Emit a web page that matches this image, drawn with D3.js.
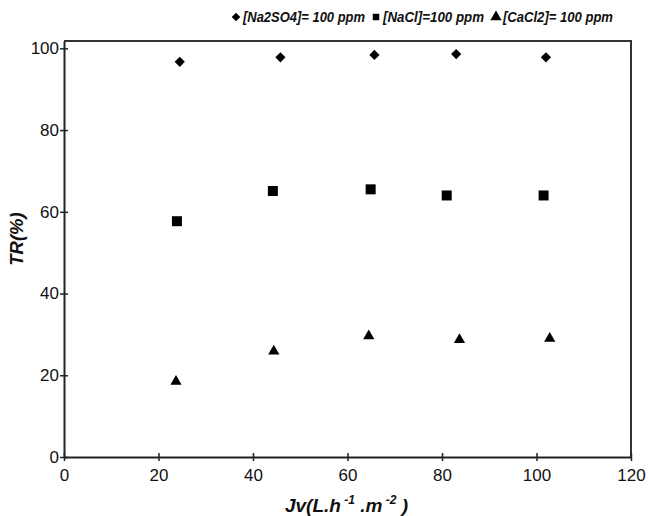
<!DOCTYPE html>
<html>
<head>
<meta charset="utf-8">
<script src="https://cdn.jsdelivr.net/npm/d3@7"></script>
<style>
  body { margin: 0; background: #fff; }
  svg { display: block; font-family: "Liberation Sans", Arial, sans-serif; }
</style>
</head>
<body>
<div id="chart"></div>
<script>
// flux values (x) and total rejection (y) per salt
var na2so4X = [24.5, 45.8, 65.7, 83.0, 102.0];
var na2so4Y = [96.7, 97.8, 98.4, 98.6, 97.8];
var naclX = [23.9, 44.2, 64.9, 81.0, 101.5];
var naclY = [57.7, 65.1, 65.5, 64.0, 64.0];
var cacl2X = [23.7, 44.4, 64.5, 83.7, 102.8];
var cacl2Y = [18.5, 25.9, 29.6, 28.7, 29.0];

var seriesNames = ["[Na2SO4]= 100 ppm", "[NaCl]=100 ppm", "[CaCl2]= 100 ppm"];
var xTicks = [0, 20, 40, 60, 80, 100, 120];
var yTicks = [0, 20, 40, 60, 80, 100];

var width = 648;
var height = 516;
var margin = { top: 41, right: 17, bottom: 59, left: 64 };

var svg = d3.select("#chart").append("svg")
    .attr("width", width)
    .attr("height", height);

var x = d3.scaleLinear().domain([0, 120]).range([margin.left, width - margin.right]);
var y = d3.scaleLinear().domain([0, 101.8]).range([height - margin.bottom, margin.top]);

// frame (top + right)
svg.append("path")
    .attr("d", `M${x(0)},${y(101.8)}H${x(120)}V${y(0)}`)
    .attr("fill", "none")
    .attr("stroke", "#333")
    .attr("stroke-width", 2);

var xAxis = svg.append("g")
    .attr("transform", `translate(0,${y(0)})`)
    .call(d3.axisBottom(x).tickValues(xTicks).tickSize(3).tickSizeOuter(0));

var yAxis = svg.append("g")
    .attr("transform", `translate(${x(0)},0)`)
    .call(d3.axisLeft(y).tickValues(yTicks).tickSize(3).tickSizeOuter(0));

[xAxis, yAxis].forEach(function (g) {
    g.select(".domain").attr("stroke", "#222").attr("stroke-width", 2);
    g.selectAll(".tick line").attr("stroke", "#222").attr("stroke-width", 1.5);
    g.selectAll(".tick text")
        .attr("fill", "#111")
        .style("font-size", "17px")
        .style("font-family", "Liberation Sans, Arial, sans-serif");
});
// ticks cross the axis lines
xAxis.selectAll(".tick line").attr("y1", -4).attr("y2", 4);
xAxis.selectAll(".tick text").attr("y", 12);
yAxis.selectAll(".tick line").attr("x1", -4).attr("x2", 4);
yAxis.selectAll(".tick text").attr("x", -5);

// markers
var diamond = d3.symbol().type(d3.symbolSquare).size(52);
var square = d3.symbol().type(d3.symbolSquare).size(100);
var triangle = d3.symbol().type(d3.symbolTriangle).size(55);

var series = [
    { xs: na2so4X, ys: na2so4Y, path: diamond(), rot: 45 },
    { xs: naclX, ys: naclY, path: square(), rot: 0 },
    { xs: cacl2X, ys: cacl2Y, path: triangle(), rot: 0 }
];

series.forEach(function (s) {
    svg.append("g").selectAll("path")
        .data(s.xs.map(function (v, i) { return [v, s.ys[i]]; }))
        .enter().append("path")
        .attr("d", s.path)
        .attr("fill", "#000")
        .attr("transform", function (d) {
            return `translate(${x(d[0])},${y(d[1])}) rotate(${s.rot})`;
        });
});

// axis titles
svg.append("text")
    .attr("transform", `translate(23,239) rotate(-90)`)
    .attr("text-anchor", "middle")
    .style("font-size", "18.5px")
    .style("font-weight", "bold")
    .style("font-style", "italic")
    .attr("fill", "#111")
    .text("TR(%)");

var xt = svg.append("text")
    .attr("x", x(60) - 1)
    .attr("y", 512)
    .attr("text-anchor", "middle")
    .style("font-size", "19px")
    .style("font-weight", "bold")
    .style("font-style", "italic")
    .attr("fill", "#111");
xt.append("tspan").text("Jv(L.h");
xt.append("tspan").attr("dy", -8).style("font-size", "12px").text(" -1");
xt.append("tspan").attr("dy", 8).text(" .m");
xt.append("tspan").attr("dy", -8).style("font-size", "12px").text(" -2");
xt.append("tspan").attr("dy", 8).text(" )");

// legend
var legendX = [236, 376, 496];
var legendW = [122, 101, 110];
var legendPaths = [diamond(), square(), triangle()];
var legendScale = [0.85, 0.65, 1.0];
var legendRot = [45, 0, 0];
seriesNames.forEach(function (name, i) {
    var g = svg.append("g").attr("transform", `translate(${legendX[i]},17)`);
    g.append("path")
        .attr("d", legendPaths[i])
        .attr("fill", "#000")
        .attr("transform", `rotate(${legendRot[i]}) scale(${legendScale[i]})`);
    g.append("text")
        .attr("x", 7)
        .attr("y", 5)
        .attr("textLength", legendW[i])
        .attr("lengthAdjust", "spacingAndGlyphs")
        .style("font-size", "14.5px")
        .style("font-weight", "bold")
        .style("font-style", "italic")
        .attr("fill", "#111")
        .text(name);
});
</script>
</body>
</html>
